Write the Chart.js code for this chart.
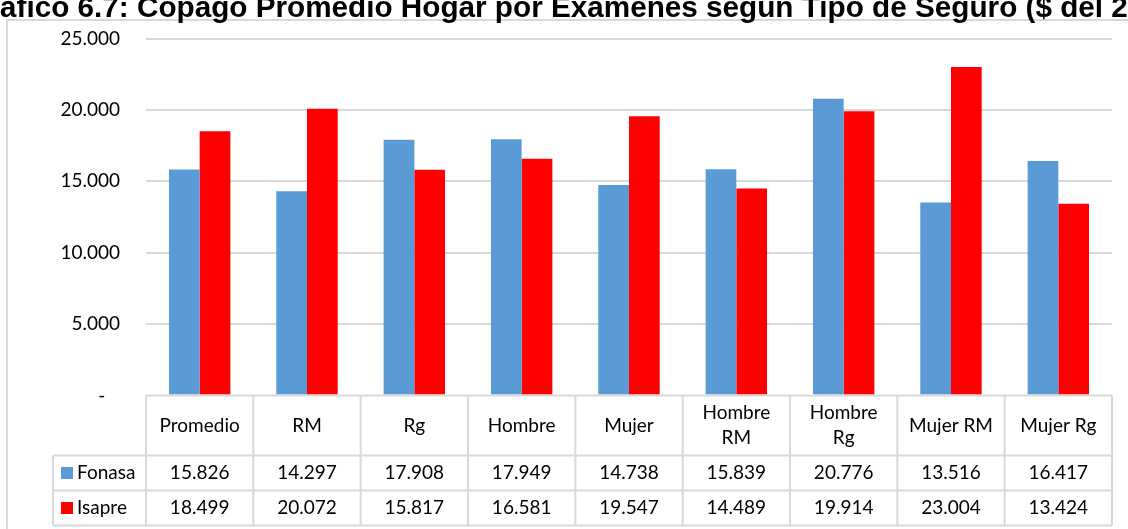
<!DOCTYPE html>
<html lang="es">
<head>
<meta charset="utf-8">
<title>Copago Promedio Hogar por Exámenes</title>
<script src="https://cdn.jsdelivr.net/npm/chart.js@4.4.1/dist/chart.umd.min.js"></script>
<style>
  html, body { margin: 0; padding: 0; background: #ffffff; }
  canvas { display: block; }
</style>
</head>
<body>
<canvas id="chart" width="1128" height="529"></canvas>
<script>
// Categorías del eje X (las de dos líneas se escriben como arreglos)
const categories = ['Promedio', 'RM', 'Rg', 'Hombre', 'Mujer', ['Hombre', 'RM'], ['Hombre', 'Rg'], 'Mujer RM', 'Mujer Rg'];
// Copago promedio por hogar ($)
const fonasa = [15826, 14297, 17908, 17949, 14738, 15839, 20776, 13516, 16417];
const isapre = [18499, 20072, 15817, 16581, 19547, 14489, 19914, 23004, 13424];
const seriesNames = ['Fonasa', 'Isapre'];
const yTicks = [0, 5000, 10000, 15000, 20000, 25000];
const titleText = 'Gráfico 6.7: Copago Promedio Hogar por Exámenes según Tipo de Seguro ($ del 2019)';

const COLORS = ['#5B9BD5', '#FF0000'];
const GRID = '#d9d9d9';
const FONT = 'Lato, "Open Sans", sans-serif';
const FONT_SIZE = 19;

// Formato con punto de miles; el cero se muestra como guion (formato contable)
function fmt(v) {
  if (v === 0) return '-   ';
  return String(v).replace(/\B(?=(\d{3})+(?!\d))/g, '.');
}

// Marco del gráfico y título (recortado por el borde superior)
const framePlugin = {
  id: 'frame',
  beforeDraw(chart) {
    const ctx = chart.ctx;
    ctx.save();
    ctx.fillStyle = '#ffffff';
    ctx.fillRect(0, 0, chart.width, chart.height);
    ctx.strokeStyle = GRID;
    ctx.lineWidth = 2;
    ctx.beginPath();
    ctx.moveTo(7, chart.height);
    ctx.lineTo(7, 20);
    ctx.lineTo(chart.width, 20);
    ctx.stroke();
    ctx.font = 'bold 29.7px "Liberation Sans", Arial, sans-serif';
    ctx.fillStyle = '#000000';
    ctx.textBaseline = 'alphabetic';
    ctx.textAlign = 'left';
    const offset = ctx.measureText('Gr').width;
    ctx.fillText(titleText, -offset, 16.5);
    ctx.restore();
  }
};

// Tabla de datos bajo el eje X, con leyenda en la primera columna
const tablePlugin = {
  id: 'dataTable',
  afterDraw(chart) {
    const ctx = chart.ctx;
    const xs = chart.scales.x;
    const area = chart.chartArea;
    const n = categories.length;
    const w = (xs.right - xs.left) / n;
    const top = area.bottom;
    const headerH = 60;
    const rowH = 35;
    const y1 = top + headerH;
    const rows = [y1, y1 + rowH, y1 + 2 * rowH];
    const legendLeft = 53;

    ctx.save();
    ctx.strokeStyle = GRID;
    ctx.lineWidth = 2;
    ctx.beginPath();
    // líneas horizontales
    ctx.moveTo(xs.left, top); ctx.lineTo(xs.right, top);
    rows.forEach(y => { ctx.moveTo(legendLeft, y); ctx.lineTo(xs.right, y); });
    // líneas verticales
    for (let i = 0; i <= n; i++) {
      const x = xs.left + i * w;
      ctx.moveTo(x, top); ctx.lineTo(x, rows[2]);
    }
    ctx.moveTo(legendLeft, y1); ctx.lineTo(legendLeft, rows[2]);
    ctx.stroke();

    ctx.fillStyle = '#000000';
    ctx.font = FONT_SIZE + 'px ' + FONT;
    ctx.textAlign = 'center';
    ctx.textBaseline = 'middle';
    const lineH = 25;
    categories.forEach((c, i) => {
      const cx = xs.left + (i + 0.5) * w;
      const lines = Array.isArray(c) ? c : [c];
      const cy = top + headerH / 2;
      lines.forEach((t, k) => {
        ctx.fillText(t, cx, cy + (k - (lines.length - 1) / 2) * lineH);
      });
    });

    const series = [fonasa, isapre];
    series.forEach((vals, s) => {
      const cy = rows[s] + rowH / 2;
      vals.forEach((v, i) => {
        const cx = xs.left + (i + 0.5) * w;
        ctx.fillStyle = '#000000';
        ctx.textAlign = 'center';
        ctx.fillText(fmt(v), cx, cy);
      });
      // leyenda
      ctx.fillStyle = COLORS[s];
      ctx.fillRect(61, cy - 6, 12, 12);
      ctx.fillStyle = '#000000';
      ctx.textAlign = 'left';
      ctx.fillText(seriesNames[s], 77, cy);
    });
    ctx.restore();
  }
};

new Chart(document.getElementById('chart'), {
  type: 'bar',
  data: {
    labels: categories,
    datasets: [
      { label: seriesNames[0], data: fonasa, backgroundColor: COLORS[0], borderWidth: 0 },
      { label: seriesNames[1], data: isapre, backgroundColor: COLORS[1], borderWidth: 0 }
    ]
  },
  options: {
    responsive: false,
    animation: false,
    devicePixelRatio: 1,
    layout: { padding: { left: 0, right: 16, top: 38.5, bottom: 0 } },
    datasets: { bar: { barPercentage: 1, categoryPercentage: 0.572 } },
    plugins: {
      legend: { display: false },
      tooltip: { enabled: false },
      title: { display: false }
    },
    scales: {
      x: {
        grid: { display: false },
        border: { display: false },
        ticks: { display: false },
        afterFit(scale) { scale.height = 133.5; }
      },
      y: {
        min: 0,
        max: 25000,
        afterBuildTicks(scale) { scale.ticks = yTicks.map(v => ({ value: v })); },
        afterFit(scale) { scale.width = 146; },
        grid: {
          color: ctx => (ctx.tick && ctx.tick.value === 0 ? 'rgba(0,0,0,0)' : GRID),
          lineWidth: 2,
          drawTicks: false
        },
        border: { display: false },
        ticks: {
          padding: 26,
          color: '#000000',
          font: { family: FONT, size: FONT_SIZE },
          callback: v => fmt(v)
        }
      }
    }
  },
  plugins: [framePlugin, tablePlugin]
});
</script>
</body>
</html>
